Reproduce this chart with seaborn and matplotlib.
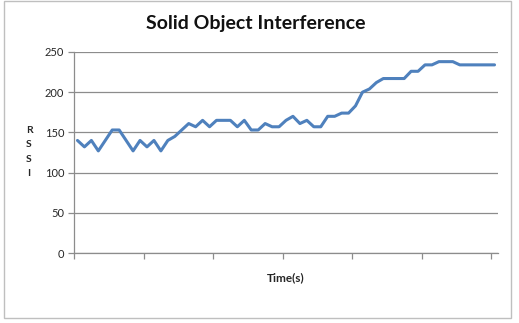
import matplotlib
matplotlib.use("Agg")
import matplotlib.pyplot as plt
import seaborn as sns
import numpy as np
import pandas as pd
from matplotlib.patches import Rectangle

# RSSI readings, one per sample
rssi = [140, 132, 140, 127, 140, 153, 153, 140, 127, 140,
        132, 140, 127, 140, 145, 153, 161, 157, 165, 157,
        165, 165, 165, 157, 165, 153, 153, 161, 157, 157,
        165, 170, 161, 165, 157, 157, 170, 170, 174, 174,
        183, 200, 204, 212, 217, 217, 217, 217, 226, 226,
        234, 234, 238, 238, 238, 234, 234, 234, 234, 234,
        234]
sample = list(range(len(rssi)))
yticks = [0, 50, 100, 150, 200, 250]

df = pd.DataFrame({"sample": sample, "rssi": rssi})

sns.set_theme(style="white")
plt.rcParams["font.family"] = ["Lato", "DejaVu Sans"]

fig = plt.figure(figsize=(5.19, 3.23), dpi=100)
ax = fig.add_axes([74 / 519, 1 - 253 / 323, 424 / 519, 201 / 323])

sns.lineplot(data=df, x="sample", y="rssi", ax=ax, color="#4F81BD", linewidth=2.2)

ax.set_xlim(-0.5, len(rssi) - 0.5)
ax.set_ylim(0, 250)
ax.set_yticks(yticks)
ax.set_xticks(np.arange(-0.5, len(rssi) - 0.5, 10))
ax.set_xticklabels([])
ax.yaxis.grid(True, color="#8C8C8C", linewidth=0.9)
ax.set_axisbelow(True)

for s in ["top", "right"]:
    ax.spines[s].set_visible(False)
for s in ["left", "bottom"]:
    ax.spines[s].set_color("#8C8C8C")
    ax.spines[s].set_linewidth(0.9)
ax.tick_params(axis="both", direction="out", length=4, width=0.9, color="#8C8C8C",
               labelsize=8, labelcolor="#262626", pad=3, bottom=True, left=True)

ax.set_xlabel("Time(s)", fontsize=8.5, fontweight="bold", color="#262626", labelpad=7)
ax.set_ylabel("")
fig.text(29 / 519, 1 - 152 / 323, "R\nS\nS\nI", fontsize=7.5, fontweight="bold",
         color="#262626", ha="center", va="center", linespacing=1.75)
fig.text(256 / 519, 1 - 24 / 323, "Solid Object Interference", fontsize=14,
         fontweight="bold", color="#111111", ha="center", va="center")

fig.patches.append(Rectangle((4 / 519, 1 - 318 / 323), 507 / 519, 317 / 323,
                             transform=fig.transFigure, fill=False,
                             edgecolor="#BFBFBF", linewidth=1.0))

fig.savefig("out.png", dpi=100)
